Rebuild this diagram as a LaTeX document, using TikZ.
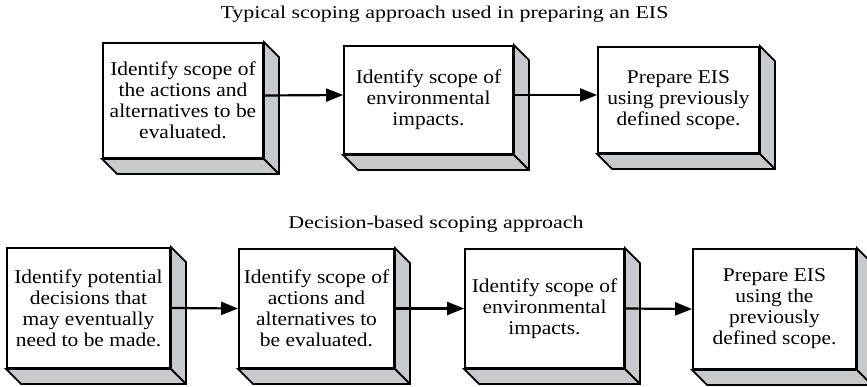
\documentclass[tikz,border=0pt]{standalone}
\usepackage{fontspec}
\setmainfont{Liberation Serif}[FakeStretch=1.1]
\newfontfamily\titlefont{Liberation Serif}[FakeStretch=1.22]
\usetikzlibrary{arrows.meta,calc}
\definecolor{sidegray}{RGB}{200,201,204}
\newcommand\depthfaces[1]{%
  \draw[face] (#1.north east) -- ++(15,15) -- ($(#1.south east)+(15,15)$)
    -- ($(#1.south west)+(15,15)$) -- (#1.south west) -- (#1.south east) -- cycle;
  \draw[face] (#1.south east) -- ++(15,15);}
\begin{document}
\begin{tikzpicture}[x=1pt,y=-1pt,
  box/.style={draw=black,line width=1.8pt,fill=white,align=center,inner sep=0pt,
    font=\fontsize{19.5}{21}\selectfont},
  face/.style={draw=black,line width=1.8pt,fill=sidegray,line join=miter},
  link/.style={line width=2.2pt,-{Triangle[length=17pt,width=13pt]}},
  title/.style={font=\titlefont\fontsize{18}{20}\selectfont}]
\useasboundingbox (0,0) rectangle (867,386);

\node[title] (h1) at (444.5,14) {Typical scoping approach used in preparing an EIS};
\node[title] (h2) at (436,224) {Decision-based scoping approach};

\node[box,minimum width=160pt,minimum height=115pt] (t1) at (183,100.5)
  {Identify scope of\\the actions and\\alternatives to be\\evaluated.};
\node[box,minimum width=169pt,minimum height=108pt] (t2) at (428.5,100)
  {Identify scope of\\environmental\\impacts.};
\node[box,minimum width=161pt,minimum height=106pt] (t3) at (678.5,100)
  {Prepare EIS\\using previously\\defined scope.};

\node[box,minimum width=163pt,minimum height=120pt] (b1) at (88.5,308)
  {Identify potential\\decisions that\\may eventually\\need to be made.};
\node[box,minimum width=155pt,minimum height=119pt] (b2) at (316.5,308.5)
  {Identify scope of\\actions and\\alternatives to\\be evaluated.};
\node[box,minimum width=159pt,minimum height=119pt] (b3) at (544.5,308.5)
  {Identify scope of\\environmental\\impacts.};
\node[box,minimum width=163pt,minimum height=120pt] (b4) at (774.5,309)
  {Prepare EIS\\using the\\previously\\defined scope.};

\foreach \n in {t1,t2,t3,b1,b2,b3,b4}{\depthfaces{\n}}

\draw[link] ([yshift=5pt]t1.east) -- ([yshift=5pt]t2.west);
\draw[link] ([yshift=5pt]t2.east) -- ([yshift=5pt]t3.west);
\draw[link] (b1.east) -- (b2.west);
\draw[link] (b2.east) -- (b3.west);
\draw[link] (b3.east) -- (b4.west);
\end{tikzpicture}
\end{document}
